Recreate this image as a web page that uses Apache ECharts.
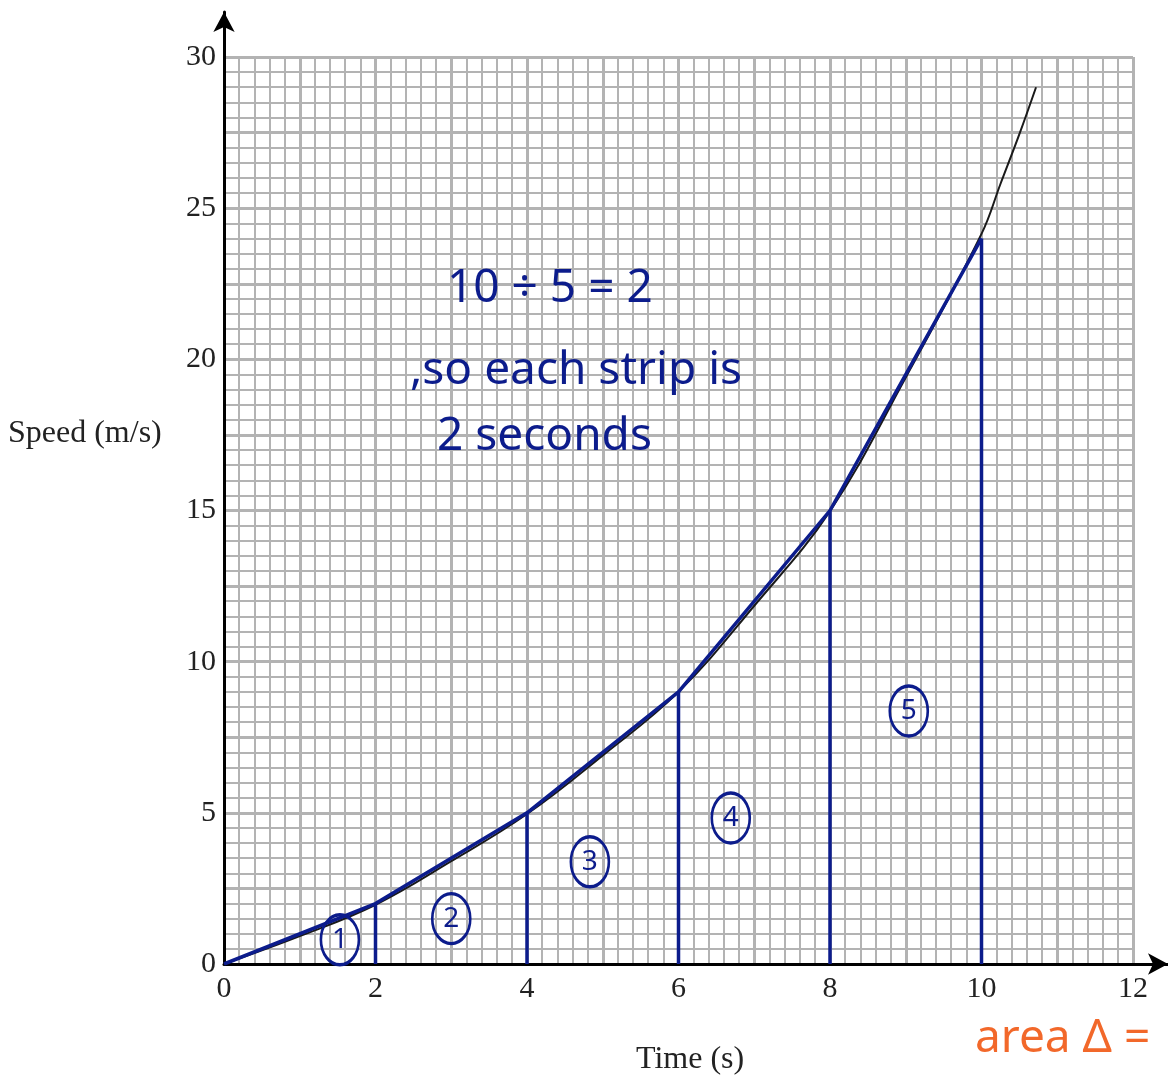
<!DOCTYPE html>
<html>
<head>
<meta charset="utf-8">
<title>Speed-time graph</title>
<script src="https://cdn.jsdelivr.net/npm/echarts@6/dist/echarts.min.js"></script>
<style>
  html, body { margin: 0; padding: 0; background: #fff; }
  #chart { width: 1168px; height: 1082px; }
</style>
</head>
<body>
<div id="chart"></div>
<script>
// smooth speed curve (black)
const curveX = [0, 1, 2, 3, 4, 5, 6, 7, 8, 9, 10, 10.25, 10.5, 10.72]
const curveY = [0, 0.92, 1.96, 3.4, 4.96, 6.9, 9.0, 11.85, 14.98, 19.4, 24.15, 25.8, 27.45, 29.0]

// hand-drawn strips (blue)
const stripX = [0, 2, 4, 6, 8, 10]
const stripY = [0, 2, 5, 9, 15, 24]

// circled strip numbers
const stripLabels = ['1', '2', '3', '4', '5']
const stripLabelX = [1.53, 3.0, 4.83, 6.69, 9.04]
const stripLabelY = [0.8, 1.5, 3.38, 4.83, 8.37]

const xTicks = [0, 2, 4, 6, 8, 10, 12]
const yTicks = [0, 5, 10, 15, 20, 25, 30]

const BLUE = '#0c1c8c'
const GRID = '#b3b3b3'
const SERIF = 'Liberation Serif'
const HAND = 'Noto Sans'

const chart = echarts.init(document.getElementById('chart'), null, { renderer: 'canvas' })

const verticals = stripX.slice(1).map((x, i) => ({
  type: 'line',
  xAxisIndex: 0,
  yAxisIndex: 0,
  data: [[x, 0], [x, stripY[i + 1]]],
  showSymbol: false,
  lineStyle: { color: BLUE, width: 3.5 },
  z: 4
}))

chart.setOption({
  animation: false,
  grid: [
    { left: 224, top: 57, width: 909, height: 907 },
    { left: 224, top: 12, right: 0, height: 952 }
  ],
  xAxis: [
    {
      type: 'value',
      gridIndex: 0,
      min: 0,
      max: 12,
      interval: 1,
      axisLine: { show: false },
      axisTick: { show: false },
      axisLabel: {
        margin: 10,
        fontFamily: SERIF,
        fontSize: 30,
        color: '#222',
        formatter: v => (xTicks.indexOf(v) >= 0 ? String(v) : '')
      },
      splitLine: { show: true, lineStyle: { color: GRID, width: 3 } },
      minorTick: { show: false, splitNumber: 5 },
      minorSplitLine: { show: true, lineStyle: { color: GRID, width: 2 } }
    },
    {
      type: 'value',
      gridIndex: 1,
      min: 0,
      max: 1,
      axisLine: {
        show: true,
        symbol: ['none', 'arrow'],
        symbolSize: [16, 20],
        lineStyle: { color: '#000', width: 3 }
      },
      axisTick: { show: false },
      axisLabel: { show: false },
      splitLine: { show: false }
    }
  ],
  yAxis: [
    {
      type: 'value',
      gridIndex: 0,
      min: 0,
      max: 30,
      interval: 2.5,
      axisLine: { show: false },
      axisTick: { show: false },
      axisLabel: {
        margin: 8,
        fontFamily: SERIF,
        fontSize: 30,
        color: '#222',
        formatter: v => (yTicks.indexOf(v) >= 0 ? String(v) : '')
      },
      splitLine: { show: true, lineStyle: { color: GRID, width: 3 } },
      minorTick: { show: false, splitNumber: 5 },
      minorSplitLine: { show: true, lineStyle: { color: GRID, width: 2 } }
    },
    {
      type: 'value',
      gridIndex: 1,
      min: 0,
      max: 1,
      axisLine: {
        show: true,
        symbol: ['none', 'arrow'],
        symbolSize: [16, 20],
        lineStyle: { color: '#000', width: 3 }
      },
      axisTick: { show: false },
      axisLabel: { show: false },
      splitLine: { show: false }
    }
  ],
  series: [
    {
      name: 'curve',
      type: 'line',
      xAxisIndex: 0,
      yAxisIndex: 0,
      data: curveX.map((x, i) => [x, curveY[i]]),
      smooth: 0.4,
      showSymbol: false,
      lineStyle: { color: '#1a1a1a', width: 2 },
      z: 3
    },
    {
      name: 'strips',
      type: 'line',
      xAxisIndex: 0,
      yAxisIndex: 0,
      data: stripX.map((x, i) => [x, stripY[i]]),
      showSymbol: false,
      lineStyle: { color: BLUE, width: 3.5 },
      z: 4
    },
    ...verticals,
    {
      name: 'numbers',
      type: 'scatter',
      xAxisIndex: 0,
      yAxisIndex: 0,
      data: stripLabelX.map((x, i) => ({ value: [x, stripLabelY[i]], label: { formatter: stripLabels[i] } })),
      symbol: 'circle',
      symbolSize: [38, 50],
      itemStyle: { color: 'rgba(0,0,0,0)', borderColor: BLUE, borderWidth: 3, opacity: 1 },
      label: {
        show: true,
        position: 'inside',
        fontFamily: HAND,
        fontSize: 28,
        color: BLUE
      },
      z: 5
    }
  ],
  graphic: [
    {
      type: 'text',
      left: 8,
      top: 418,
      z: 100,
      style: { text: 'Speed (m/s)', font: '32px "Liberation Serif"', fill: '#222' }
    },
    {
      type: 'text',
      left: 636,
      top: 1044,
      z: 100,
      style: { text: 'Time (s)', font: '32px "Liberation Serif"', fill: '#222' }
    },
    {
      type: 'text',
      left: 447,
      top: 266,
      z: 100,
      style: { text: '10 ÷ 5 = 2', font: '46px "Noto Sans"', fill: BLUE }
    },
    {
      type: 'text',
      left: 410,
      top: 348,
      z: 100,
      style: { text: ',so each strip is', font: '46px "Noto Sans"', fill: BLUE }
    },
    {
      type: 'text',
      left: 437,
      top: 414,
      z: 100,
      style: { text: '2 seconds', font: '46px "Noto Sans"', fill: BLUE }
    },
    {
      type: 'text',
      left: 975,
      top: 1016,
      z: 100,
      style: { text: 'area Δ =', font: '46px "Noto Sans"', fill: '#f2682a' }
    }
  ]
})
</script>
</body>
</html>
